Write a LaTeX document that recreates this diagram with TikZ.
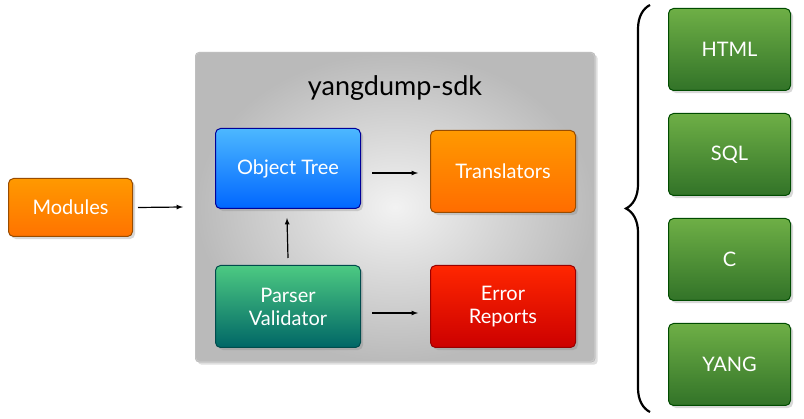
\documentclass[tikz,border=0pt]{standalone}
\usepackage{fontspec}
\setmainfont{Lato}
\usetikzlibrary{decorations.pathreplacing,shadows}
\begin{document}
\begin{tikzpicture}[x=1pt,y=-1pt,
  box/.style={rounded corners=5pt,draw=#1!60!black,line width=1pt,minimum height=80pt,minimum width=145pt,text=white,font=\fontsize{20}{23}\selectfont,align=center,anchor=north west,drop shadow={opacity=0.3}},
  arr/.style={-latex,line width=1.2pt}]
\useasboundingbox (0,0) rectangle (804,419);
\fill[white] (0,0) rectangle (804,419);
\node[rounded corners=4pt,fill=black!22,draw=black!30,minimum width=400pt,minimum height=310pt,anchor=north west,inner sep=0,drop shadow={opacity=0.25}] (sdk) at (195,52) {};
\shade[inner color=black!5,outer color=black!27,rounded corners=4pt] (196,53) rectangle (594,361);
\node[font=\fontsize{27}{30}\selectfont] (title) at (395,88) {yangdump-sdk};
\node[box=orange,top color=orange!80!yellow,bottom color=orange!90!red,minimum width=124pt,minimum height=58pt] (mod) at (8,178) {Modules};
\node[box=blue,top color=cyan!60!blue!70,bottom color=blue!60!cyan] (obj) at (215,128) {Object Tree};
\node[box=orange,top color=orange!80!yellow,bottom color=orange!85!red,minimum height=82pt] (tr) at (430,130) {Translators};
\node[box=teal,top color=teal!60!green!70,bottom color=teal!80!black,minimum height=82pt] (par) at (215,265) {Parser\\Validator};
\node[box=red,top color=red!70!orange,bottom color=red!80!black,minimum height=82pt] (err) at (430,265) {Error\\Reports};
\foreach \n/\t/\y in {h/HTML/8,s/SQL/113,c/C/218,y/YANG/323}
  \node[box=green!50!black,top color={rgb,255:red,110;green,175;blue,70},bottom color={rgb,255:red,50;green,115;blue,40},minimum width=122pt,minimum height=82pt] (\n) at (668,\y) {\t};
\draw[arr] (mod.east)++(5,0) -- (183,207);
\draw[arr] (372,173) -- (418,173);
\draw[arr] (par.north)++(0,-7) -- (287,218);
\draw[arr] (372,313) -- (418,313);
\coordinate (bt) at (650,5);
\coordinate (bb) at (650,412);
\draw[line width=2.2pt,decorate,decoration={brace,amplitude=24pt}] (bb) -- (bt);
\end{tikzpicture}
\end{document}
